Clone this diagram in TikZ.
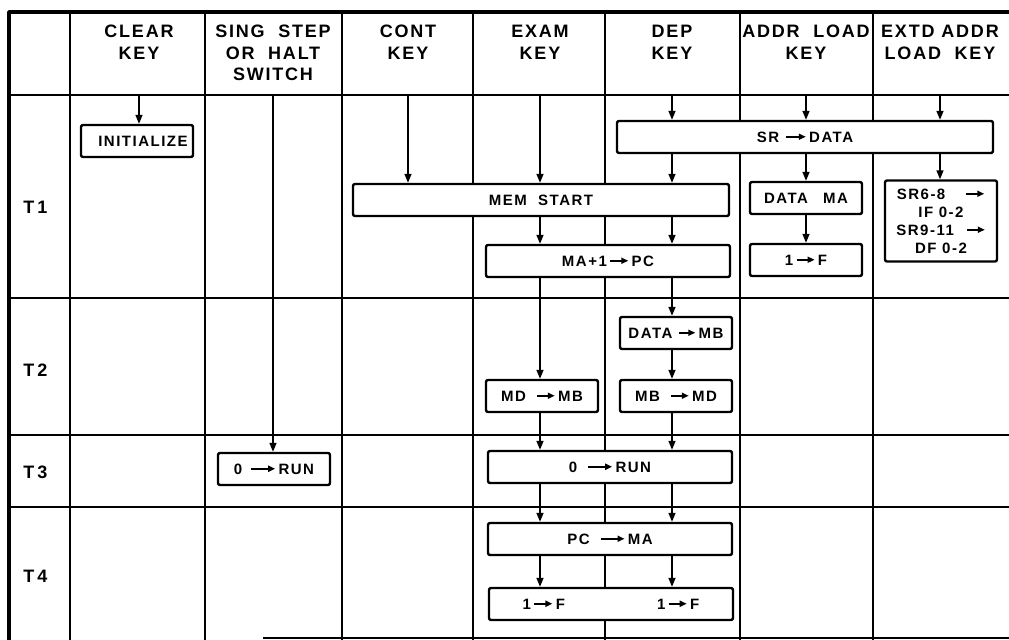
\documentclass[tikz,border=0pt]{standalone}
\usepackage{fontspec}
\setmainfont{Liberation Sans}
\newfontfamily\lettering[LetterSpace=10]{Liberation Sans}
\usetikzlibrary{arrows.meta,positioning,calc}
\newcommand{\headfont}{\lettering\bfseries\fontsize{9}{10.75}\selectfont}
\newcommand{\boxfont}{\lettering\bfseries\fontsize{7.5}{9}\selectfont}
% small inline transfer arrow
\newcommand{\toarr}[1][9pt]{\tikz[baseline=-2.7pt]\draw[line width=0.9pt,-{Triangle[length=3.5pt,width=3pt]}] (0pt,0pt) -- (#1,0pt);}

\begin{document}
\begin{tikzpicture}[x=0.5pt, y=-0.5pt, line join=round,
  frame/.style={line width=1.8pt},
  rule/.style={line width=1.2pt},
  flow/.style={line width=0.8pt, -{Triangle[length=4.5pt,width=3.5pt]}},
  head/.style={font=\headfont, align=center, inner sep=0pt},
  box/.style={draw, line width=1.2pt, fill=white, rounded corners=1pt, inner sep=1pt, minimum height=16pt, font=\boxfont},
  narrow/.style={box, minimum width=56pt},
  wide/.style={box, minimum width=122pt},
  long/.style={box, minimum width=188pt}]
\useasboundingbox (0,0) rectangle (1009,640);

% frame and row rules
\draw[frame] (1009,12) -- (9,12) -- (9,640);
\draw[rule] (9,95) -- (1009,95);
\foreach \y in {298,435,507}
  \draw[rule] (9,\y) -- (1009,\y);
\draw[rule] (263,638) -- (1009,638);
% column rules
\foreach \x in {70,205,342,473,605,740,873}
  \draw[rule] (\x,12) -- (\x,640);

% key headings, one per column
\foreach \n/\x/\txt in {clear/139/{CLEAR\\KEY},
                        sing/273/{SING\ \ STEP\\OR\ \ HALT\\SWITCH},
                        cont/408/{CONT\\KEY},
                        exam/540/{EXAM\\KEY},
                        dep/672/{DEP\\KEY},
                        addr/806/{ADDR\ \ LOAD\\KEY},
                        extd/940/{EXTD\ ADDR\\LOAD\ \ KEY}}{
  \node[head, anchor=north] (h\n) at (\x,25) {\txt};
  \coordinate (c\n) at (\x,95);
}

% time states
\foreach \t/\y in {1/207,2/370,3/472,4/576}
  \node[head, anchor=west] (t\t) at (23,\y) {T\,\t};

% operations
\node[narrow] (init) at (137,141) {\hspace*{6pt}INITIALIZE};
\node[narrow] (runS) at (274,469) {0\hspace{4pt}\toarr[12pt]\,RUN};
\node[long] (mem) at (541,200) {MEM\ \ START};
\node[long] (srdata) at (805,137) {SR\ \toarr[10pt]\,DATA};
\node[narrow] (datama) at (806,198) {DATA\quad MA};
\node[narrow] (oneF) at (806,260) {1\,\toarr\,F};
\node[narrow, minimum height=40.5pt, align=center] (sr) at (941,221)
  {SR6-8\hspace{10pt}\toarr\\IF 0-2\\SR9-11\hspace{6pt}\toarr\\DF 0-2};
\node[wide] (mapc) at (608,261) {MA+1\,\toarr\,PC};
\node[narrow] (datamb) at (676,333) {DATA\hspace{3pt}\toarr[8pt]\,MB};
\node[narrow] (mdmb) at (542,396) {MD\hspace{5pt}\toarr\,MB};
\node[narrow] (mbmd) at (676,396) {MB\hspace{5pt}\toarr\,MD};
\node[wide] (run) at (610,467) {0\hspace{5pt}\toarr[12pt]\,RUN};
\node[wide] (pcma) at (610,539) {PC\hspace{5pt}\toarr[12pt]\,MA};
\node[wide] (setf) at (611,604) {1\,\toarr\,F\hspace{46pt}1\,\toarr\,F};

% transfers
\draw[flow] (cclear) -- (init.north -| cclear);
\draw[flow] (csing) -- (runS.north -| csing);
\draw[flow] (ccont) -- (mem.north -| ccont);
\draw[flow] (cexam) -- (mem.north -| cexam);
\foreach \n in {dep,addr,extd}
  \draw[flow] (c\n) -- (srdata.north -| c\n);
\draw[flow] (srdata.south -| cdep) -- (mem.north -| cdep);
\draw[flow] (srdata.south -| caddr) -- (datama.north -| caddr);
\draw[flow] (datama.south -| caddr) -- (oneF.north -| caddr);
\draw[flow] (srdata.south -| cextd) -- (sr.north -| cextd);
\draw[flow] (mapc.south -| cexam) -- (mdmb.north -| cexam);
\draw[flow] (mapc.south -| cdep) -- (datamb.north -| cdep);
\draw[flow] (datamb.south -| cdep) -- (mbmd.north -| cdep);
\draw[flow] (mdmb.south -| cexam) -- (run.north -| cexam);
\draw[flow] (mbmd.south -| cdep) -- (run.north -| cdep);
\foreach \a/\b in {mem/mapc, run/pcma, pcma/setf}
  \foreach \n in {exam,dep}
    \draw[flow] (\a.south -| c\n) -- (\b.north -| c\n);
\end{tikzpicture}
\end{document}
